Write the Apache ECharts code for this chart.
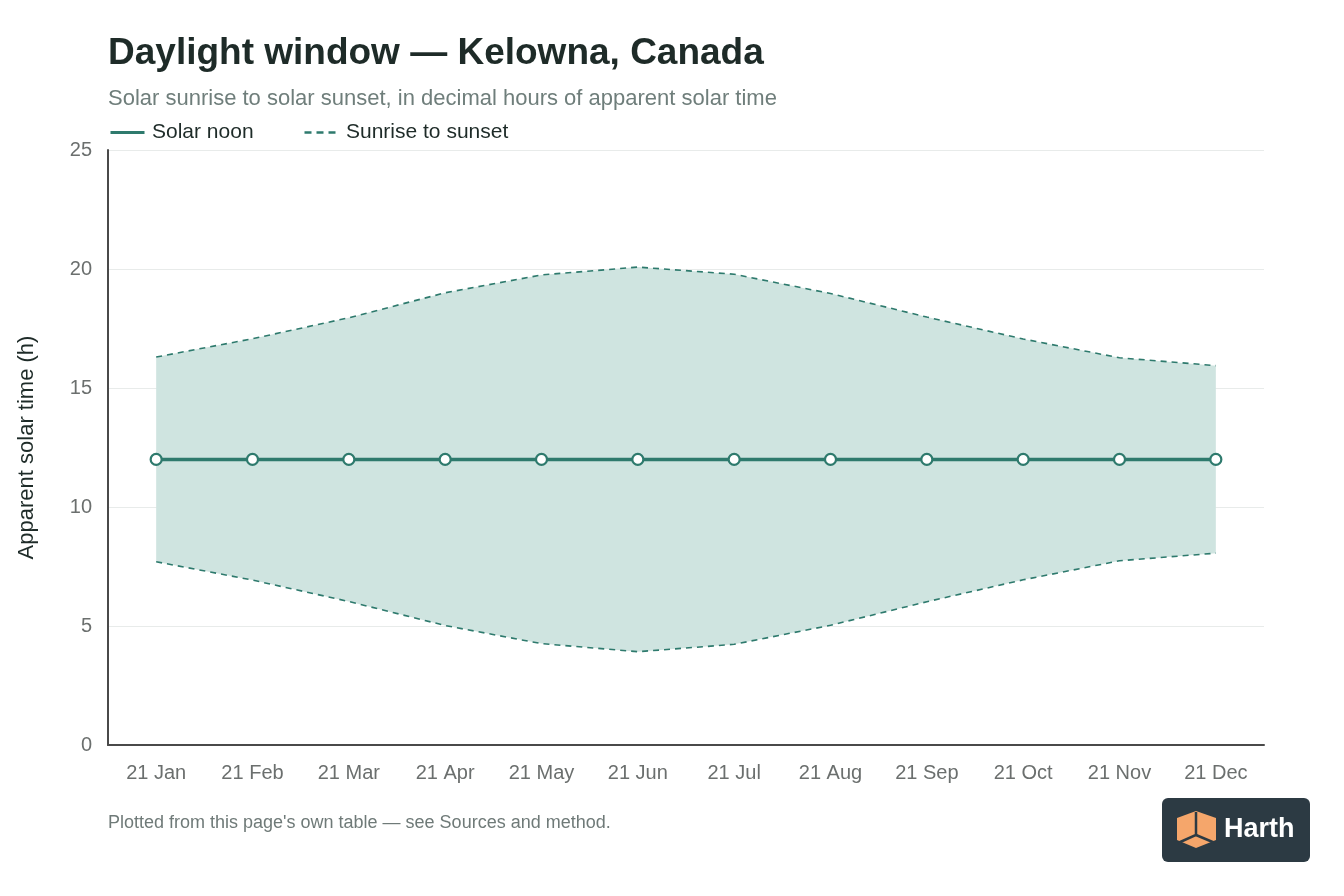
<!DOCTYPE html>
<html>
<head>
<meta charset="utf-8">
<script src="https://cdn.jsdelivr.net/npm/echarts@6/dist/echarts.min.js"></script>
<style>
  html, body { margin: 0; padding: 0; background: #fff; }
  #chart { width: 1344px; height: 896px; }
</style>
</head>
<body>
<div id="chart"></div>
<script>
// dates sampled on the 21st of each month
var months = ['21 Jan', '21 Feb', '21 Mar', '21 Apr', '21 May', '21 Jun',
              '21 Jul', '21 Aug', '21 Sep', '21 Oct', '21 Nov', '21 Dec'];
var noon = [12, 12, 12, 12, 12, 12, 12, 12, 12, 12, 12, 12];
var sunrise = [7.70, 6.93, 6.03, 5.02, 4.26, 3.92, 4.23, 5.03, 6.02, 6.94, 7.74, 8.06];
var sunset = [16.30, 17.07, 17.95, 19.00, 19.75, 20.08, 19.78, 18.97, 17.98, 17.06, 16.27, 15.94];
var yTicks = [0, 5, 10, 15, 20, 25];

var teal = '#2e7a6d';
var font = '"Liberation Sans", Arial, sans-serif';

var band = [];
for (let i = 0; i < sunset.length; i++) {
    band[i] = +(sunset[i] - sunrise[i]).toFixed(2);
}

let option = {
    animation: false,
    textStyle: { fontFamily: font },
    title: {
        text: 'Daylight window — Kelowna, Canada',
        subtext: 'Solar sunrise to solar sunset, in decimal hours of apparent solar time',
        left: 108, top: 35,
        padding: 0,
        itemGap: 16,
        textStyle: { fontSize: 37, fontWeight: 600, color: '#1e2b28', fontFamily: font },
        subtextStyle: { fontSize: 22, color: '#6f7e7b', fontFamily: font }
    },
    grid: { left: 108, right: 80, top: 150, bottom: 151 },
    xAxis: {
        type: 'category',
        data: months,
        boundaryGap: true,
        axisLine: { lineStyle: { color: '#4a4a4a', width: 2 } },
        axisTick: { show: false },
        axisLabel: { color: '#6b6f6e', fontSize: 20, margin: 18, fontFamily: font }
    },
    yAxis: {
        type: 'value',
        min: yTicks[0],
        max: yTicks[yTicks.length - 1],
        interval: 5,
        name: 'Apparent solar time (h)',
        nameLocation: 'middle',
        nameGap: 70,
        nameTextStyle: { fontSize: 22, color: '#1e2b28', fontFamily: font },
        axisLine: { show: true, lineStyle: { color: '#4a4a4a', width: 2 } },
        axisTick: { show: false },
        axisLabel: { color: '#6b6f6e', fontSize: 20, margin: 16, fontFamily: font },
        splitLine: { lineStyle: { color: '#e8ebea', width: 1 } }
    },
    series: [
        {
            name: 'Sunrise',
            type: 'line',
            stack: 'day',
            data: sunrise,
            symbol: 'none',
            lineStyle: { color: teal, width: 1.6, type: [6, 5] },
            z: 3
        },
        {
            name: 'Sunrise to sunset',
            type: 'line',
            stack: 'day',
            data: band,
            symbol: 'none',
            lineStyle: { color: teal, width: 1.6, type: [6, 5] },
            areaStyle: { color: '#cfe4e0', opacity: 1 },
            z: 3
        },
        {
            name: 'Solar noon',
            type: 'line',
            data: noon,
            symbol: 'circle',
            symbolSize: 11,
            itemStyle: { color: '#ffffff', borderColor: teal, borderWidth: 2.2 },
            lineStyle: { color: teal, width: 3.5 },
            z: 5
        }
    ],
    graphic: [
        { type: 'line', left: 108, top: 130, shape: { x1: 0, y1: 0, x2: 34, y2: 0 },
          style: { stroke: teal, lineWidth: 3 } },
        { type: 'text', left: 152, top: 122,
          style: { text: 'Solar noon', fontSize: 21, fill: '#1e2b28', fontFamily: font } },
        { type: 'line', left: 302, top: 130, shape: { x1: 0, y1: 0, x2: 32, y2: 0 },
          style: { stroke: teal, lineWidth: 2.5, lineDash: [7, 5] } },
        { type: 'text', left: 346, top: 122,
          style: { text: 'Sunrise to sunset', fontSize: 21, fill: '#1e2b28', fontFamily: font } },
        { type: 'text', left: 108, top: 814,
          style: { text: "Plotted from this page's own table — see Sources and method.", fontSize: 18, fill: '#6f7a78', fontFamily: font } },
        {
            type: 'group', left: 1162, top: 798,
            children: [
                { type: 'rect', shape: { x: 0, y: 0, width: 148, height: 64, r: 6 },
                  style: { fill: '#2c3a43' } },
                { type: 'polygon', shape: { points: [[15, 20], [34, 13], [54, 20], [54, 42], [34, 50], [15, 42]] },
                  style: { fill: '#f5a66b' } },
                { type: 'polyline', shape: { points: [[34, 14], [34, 37], [16, 45]] },
                  style: { stroke: '#2c3a43', lineWidth: 2.5, fill: null } },
                { type: 'line', shape: { x1: 34, y1: 37, x2: 53, y2: 45 },
                  style: { stroke: '#2c3a43', lineWidth: 2.5 } },
                { type: 'text', x: 62, y: 18,
                  style: { text: 'Harth', fontSize: 27, fontWeight: 'bold', fill: '#ffffff', fontFamily: font } }
            ]
        }
    ]
};

let mychart = echarts.init(document.getElementById('chart'));
mychart.setOption(option);
</script>
</body>
</html>
